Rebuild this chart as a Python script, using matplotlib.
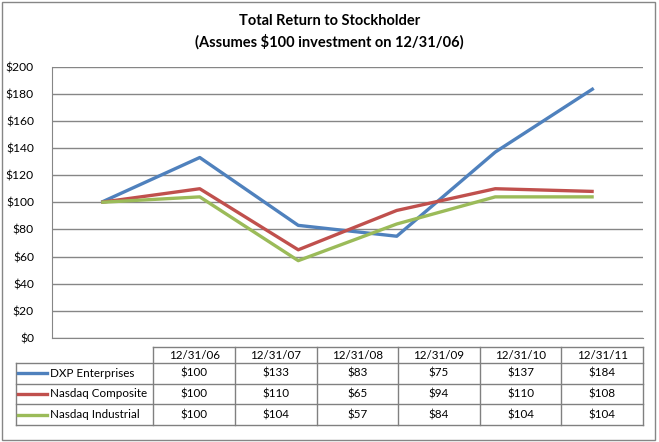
import matplotlib
matplotlib.use("Agg")
import matplotlib.pyplot as plt
from matplotlib.lines import Line2D
from matplotlib.patches import Rectangle

categories = ["12/31/06", "12/31/07", "12/31/08", "12/31/09", "12/31/10", "12/31/11"]
series_names = ["DXP Enterprises", "Nasdaq Composite", "Nasdaq Industrial"]
dxp = [100, 133, 83, 75, 137, 184]
nasdaq_comp = [100, 110, 65, 94, 110, 108]
nasdaq_ind = [100, 104, 57, 84, 104, 104]
y_ticks = [0, 20, 40, 60, 80, 100, 120, 140, 160, 180, 200]
colors = ["#4F81BD", "#C0504D", "#9BBB59"]
series = [dxp, nasdaq_comp, nasdaq_ind]

plt.rcParams['font.family'] = ['Lato', 'DejaVu Sans']

W, H = 659, 442
fig = plt.figure(figsize=(W / 100, H / 100), dpi=100)

def fx(px):
    return px / W

def fy(py):
    return 1 - py / H

# outer chart border
fig.patches.append(Rectangle((fx(2), fy(440)), fx(653), (438) / H, transform=fig.transFigure,
                             fill=False, edgecolor="#868686", linewidth=1.0))

# plot area
L, R, T, B = 52, 643, 66.6, 338
ax = fig.add_axes([fx(L), fy(B), fx(R - L), (B - T) / H])
x = list(range(len(categories)))
for s, c in zip(series, colors):
    ax.plot(x, s, color=c, linewidth=2.4, solid_capstyle='butt', zorder=3)
ax.set_xlim(-0.5, len(categories) - 0.5)
ax.set_ylim(0, 200)
ax.set_yticks(y_ticks)
ax.set_yticklabels([f"${v}" for v in y_ticks], fontsize=8.7)
ax.tick_params(axis='y', length=0, pad=13)
ax.set_xticks([])
ax.grid(axis='y', color="#868686", linewidth=1.0)
ax.set_axisbelow(True)
for sp in ["top", "right"]:
    ax.spines[sp].set_visible(False)
ax.spines["left"].set_color("#868686")
ax.spines["bottom"].set_color("#868686")
for lab in ax.get_yticklabels():
    lab.set_horizontalalignment('right')

# title
fig.text(0.5, fy(21), "Total Return to Stockholder", ha="center", va="center",
         fontsize=10.5, fontweight="bold")
fig.text(0.5, fy(42), "(Assumes $100 investment on 12/31/06)", ha="center", va="center",
         fontsize=10.5, fontweight="bold")

# data table
gc = "#808080"
col0 = 15.7
col_start = 153.3
col_end = 642.9
ncol = len(categories)
cw = (col_end - col_start) / ncol
cols = [col_start + i * cw for i in range(ncol + 1)]
rows = [346.7, 363.3, 383.6, 404.3, 425.3]

def hline(y, x0, x1):
    fig.add_artist(Line2D([fx(x0), fx(x1)], [fy(y), fy(y)], color=gc, linewidth=1.0,
                          transform=fig.transFigure))

def vline(xp, y0, y1):
    fig.add_artist(Line2D([fx(xp), fx(xp)], [fy(y0), fy(y1)], color=gc, linewidth=1.0,
                          transform=fig.transFigure))

hline(rows[0], col_start, col_end)
for r in rows[1:]:
    hline(r, col0, col_end)
for c in cols:
    vline(c, rows[0], rows[-1])
vline(col0, rows[1], rows[-1])

fs = 8.4
for i, cat in enumerate(categories):
    cx = (cols[i] + cols[i + 1]) / 2
    fig.text(fx(cx), fy((rows[0] + rows[1]) / 2 + 0.5), cat, ha="center", va="center", fontsize=fs)
    for j, s in enumerate(series):
        cy = (rows[j + 1] + rows[j + 2]) / 2
        fig.text(fx(cx), fy(cy), f"${s[i]}", ha="center", va="center", fontsize=fs)

for j, (name, c) in enumerate(zip(series_names, colors)):
    cy = (rows[j + 1] + rows[j + 2]) / 2
    fig.add_artist(Line2D([fx(18), fx(47)], [fy(cy), fy(cy)], color=c, linewidth=2.4,
                          transform=fig.transFigure))
    fig.text(fx(49.5), fy(cy), name, ha="left", va="center", fontsize=fs)

fig.savefig("out.png", dpi=100)
